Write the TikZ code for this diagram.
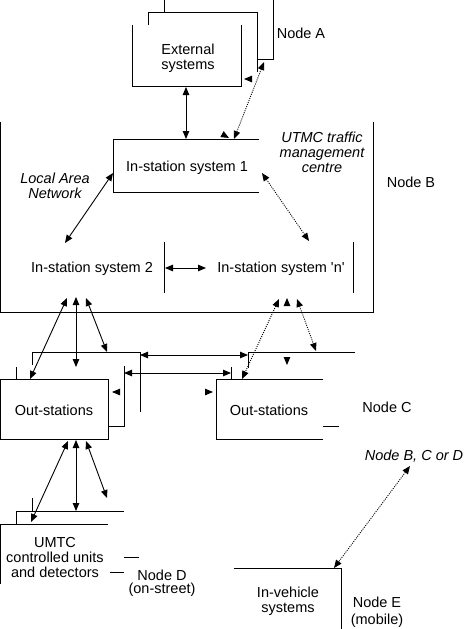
\documentclass[tikz,border=0pt]{standalone}
\usepackage{fontspec}
\setmainfont{Liberation Sans}
\usetikzlibrary{arrows.meta}

\tikzset{
  txt/.style={font=\fontsize{14.5}{15}\selectfont, align=center, inner sep=0pt},
  note/.style={txt, font=\fontsize{14.5}{15}\selectfont\itshape},
  link/.style={<->, line width=0.9pt},
  dotlink/.style={<->, line width=0.9pt, dash pattern=on 1pt off 1.2pt},
  tiponly/.style={line cap=butt, dash pattern=on 0pt off 200pt},
}

\begin{document}
\begin{tikzpicture}[x=1pt,y=-1pt,line width=1pt,>={Triangle[length=8pt,width=6.5pt]}]
      \useasboundingbox (0,0) rectangle (468,629);

      % Node A
      \draw (164,0) -- (164,12);
      \draw (273,0) -- (273,59) -- (257,59);
      \draw (148,25) -- (148,12) -- (257,12) -- (257,72);
      \draw (132,25) -- (132,86) -- (241,86) -- (241,25);
      \node[txt] (extsys) at (188,58) {External\\systems};
      \node[txt] (nodeA) at (301,33) {Node A};

      % Node B
      \draw (0.5,122) -- (0.5,312) -- (373,312) -- (373,122);
      \draw (259,139) -- (113,139) -- (113,192) -- (259,192);
      \draw (164,242) -- (164,293);
      \draw (353,242) -- (353,293);
      \node[txt] (insone) at (187,168) {In-station system 1};
      \node[txt] (instwo) at (92,269) {In-station system 2};
      \node[txt] (insn) at (281,269) {In-station system \textquotesingle n\textquotesingle};
      \node[note] (utmc) at (322,152) {UTMC traffic\\management\\centre};
      \node[note] (lan) at (55,186) {Local Area\\Network};
      \node[txt] (nodeB) at (411,182) {Node B};

      % Node C
      \draw (32,365) -- (32,352) -- (140,352) -- (140,412);
      \draw (16,367) -- (16,379);
      \draw (108,426) -- (124,426) -- (124,366);
      \draw (0.5,379) rectangle (108,439);
      \node[txt] (outL) at (54,410) {Out-stations};
      \draw (248,368) -- (248,352) -- (355,352);
      \draw (231,367) -- (231,379);
      \draw (323,379) -- (216,379) -- (216,439) -- (323,439);
      \draw (323,426) -- (339,426);
      \node[txt] (outR) at (269,410) {Out-stations};
      \node[txt] (nodeC) at (387,407) {Node C};

      % Node D
      \draw (32,498) -- (32,511);
      \draw (16,524) -- (16,511) -- (124,511);
      \draw (108,524) -- (0.5,524) -- (0.5,584);
      \draw (124,557) -- (139,557);
      \draw (110,572) -- (124,572);
      \node[txt] (umtc) at (55,558) {UMTC\\controlled units\\and detectors};
      \node[txt] (nodeD) at (162,583) {Node D\\[-2pt](on-street)};

      % Node E
      \draw (234,568) -- (341,568) -- (341,629);
      \node[txt] (inveh) at (288,601) {In-vehicle\\systems};
      \node[txt] (nodeE) at (377,612) {Node E\\[2pt](mobile)};
      \node[note] (nodeBCD) at (414,456) {Node B, C or D};

      % Add Link Ends
      \coordinate (ea) at (186,87);   \coordinate (eb) at (186,139);
      \coordinate (fa) at (264,62);   \coordinate (fb) at (234,139);
      \coordinate (ga) at (113,173);  \coordinate (gb) at (65,243);
      \coordinate (ha) at (262,173);  \coordinate (hb) at (309,241);
      \coordinate (ka) at (165,268);  \coordinate (kb) at (206,268);
      \coordinate (la) at (67,298);   \coordinate (lb) at (30,379);
      \coordinate (ma) at (76,297);   \coordinate (mb) at (76,367);
      \coordinate (na) at (86,298);   \coordinate (nb) at (107,352);
      \coordinate (oa) at (279,299);  \coordinate (ob) at (242,379);
      \coordinate (pa) at (287,298);  \coordinate (pb) at (287,365);
      \coordinate (qa) at (297,299);  \coordinate (qb) at (316,351);
      \coordinate (ra) at (140,355);  \coordinate (rb) at (248,355);
      \coordinate (sa) at (124,373);  \coordinate (sb) at (231,373);
      \coordinate (ua) at (68,441);   \coordinate (ub) at (31,522);
      \coordinate (va) at (76,440);   \coordinate (vb) at (76,511);
      \coordinate (wa) at (86,441);   \coordinate (wb) at (107,498);
      \coordinate (xa) at (410,466);  \coordinate (xb) at (334,568);
      \coordinate (ta) at (253,79);   \coordinate (tb) at (244,79);
      \coordinate (tc) at (220,133);  \coordinate (td) at (229,138);
      \coordinate (te) at (122,392);  \coordinate (tf) at (112,392);
      \coordinate (tg) at (203,392);  \coordinate (th) at (213,392);

      % Add Arrows
      \draw[link] (ea) -- (eb);
      \draw[dotlink] (fa) -- (fb);
      \draw[link] (ga) -- (gb);
      \draw[dotlink] (ha) -- (hb);
      \draw[link] (ka) -- (kb);
      \draw[link] (la) -- (lb);
      \draw[link] (ma) -- (mb);
      \draw[link] (na) -- (nb);
      \draw[dotlink] (oa) -- (ob);
      \draw[link,tiponly] (pa) -- (pb);
      \draw[dotlink] (qa) -- (qb);
      \draw[link] (ra) -- (rb);
      \draw[link] (sa) -- (sb);
      \draw[link] (ua) -- (ub);
      \draw[link] (va) -- (vb);
      \draw[link] (wa) -- (wb);
      \draw[dotlink] (xa) -- (xb);
      \draw[->,tiponly] (ta) -- (tb);
      \draw[->,tiponly] (tc) -- (td);
      \draw[->,tiponly] (te) -- (tf);
      \draw[->,tiponly] (tg) -- (th);
    \end{tikzpicture}
\end{document}
